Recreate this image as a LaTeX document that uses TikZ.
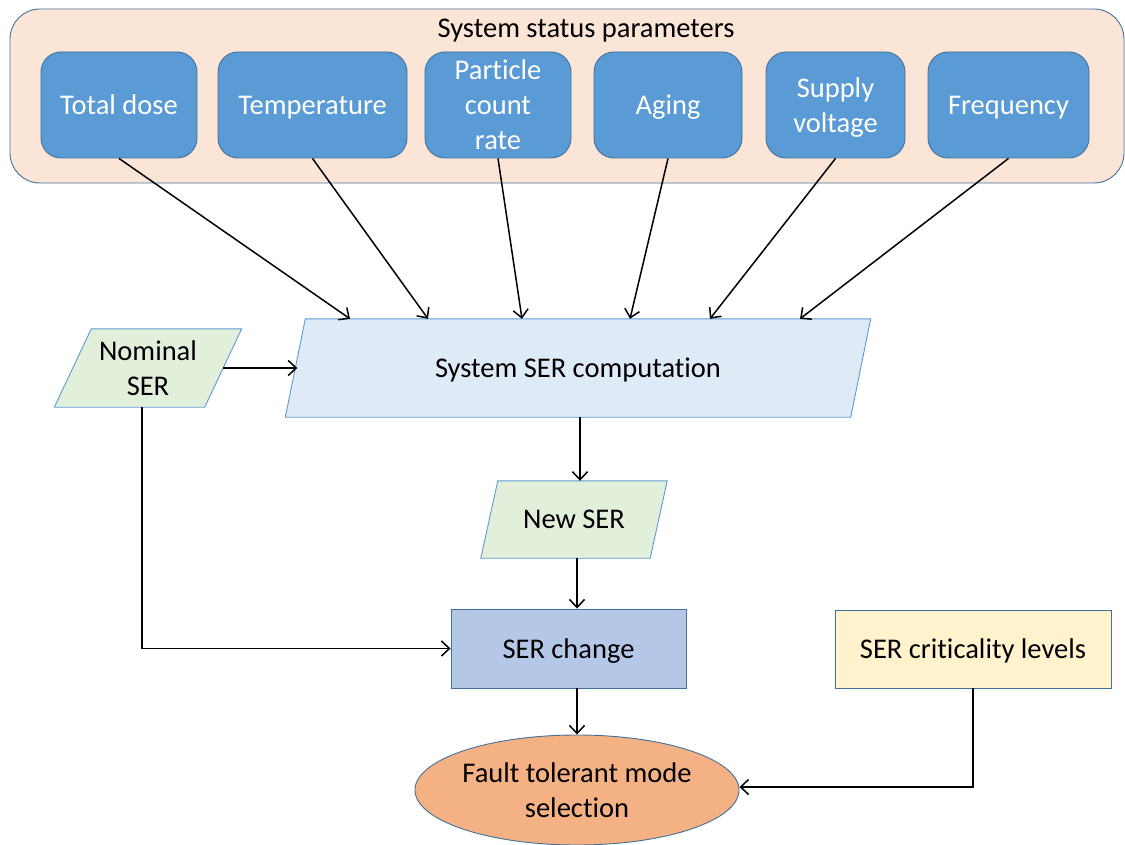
\documentclass[tikz,border=0pt]{standalone}
\usepackage{fontspec}
\setmainfont{Carlito}[Ligatures=NoCommon]
\usetikzlibrary{arrows.meta,shapes.geometric,backgrounds,calc}
\definecolor{outerfill}{HTML}{FBE5D6}
\definecolor{edgeblue}{HTML}{41719C}
\definecolor{parblue}{HTML}{5B9BD5}
\definecolor{compfill}{HTML}{DEEBF7}
\definecolor{greenfill}{HTML}{E2EFDA}
\definecolor{chgfill}{HTML}{B4C7E7}
\definecolor{critfill}{HTML}{FFF2CC}
\definecolor{ftsfill}{HTML}{F4B183}
\begin{document}
\begin{tikzpicture}[x=1pt,y=-1pt,
  font=\fontsize{28.5}{35}\selectfont,
  every node/.append style={text depth=0pt},
  parbox/.style={draw=edgeblue,line width=0.9pt,fill=parblue,rounded corners=20pt,
    minimum height=106pt,inner sep=0pt,align=center,text=white},
  plainbox/.style={draw=edgeblue,line width=0.9pt,minimum height=78pt,inner sep=0pt,align=center},
  paratext/.style={inner sep=0pt,align=center},
  paraline/.style={draw=parblue,line width=0.9pt},
  conn/.style={draw=black,line width=1.5pt,-{Straight Barb[length=8pt,width=15pt,line width=1.5pt]}}
]
\useasboundingbox (0,0) rectangle (1125,845);

% container
\node[draw=edgeblue,line width=0.9pt,fill=outerfill,rounded corners=30pt,
  minimum width=1114pt,minimum height=174pt,inner sep=0pt] (sys) at (567,96) {};
\node[inner sep=0pt] (systitle) at (586,28) {System status parameters};

% parameter boxes
\node[parbox,minimum width=156pt] (td) at (119,105) {Total dose};
\node[parbox,minimum width=189pt] (tp) at (312.5,105) {Temperature};
\node[parbox,minimum width=146pt] (pc) at (498,105) {Particle\\count\\rate};
\node[parbox,minimum width=148pt] (ag) at (668,105) {Aging};
\node[parbox,minimum width=139pt] (sv) at (835.5,105) {Supply\\voltage};
\node[parbox,minimum width=161pt] (fq) at (1008.5,105) {Frequency};

% parallelogram nodes (text holders)
\node[paratext,minimum width=565pt,minimum height=98pt] (comp) at (578,368) {System SER computation};
\node[paratext,minimum width=150pt,minimum height=78pt] (nom) at (148,368) {Nominal\\SER};
\node[paratext,minimum width=169pt,minimum height=77pt] (new) at (574,519.5) {New SER};

\begin{scope}[on background layer]
  \draw[paraline,fill=compfill] ([xshift=10pt]comp.north west) -- ([xshift=10pt]comp.north east)
    -- ([xshift=-10pt]comp.south east) -- ([xshift=-10pt]comp.south west) -- cycle;
  \draw[paraline,fill=greenfill] ([xshift=18.5pt]nom.north west) -- ([xshift=18.5pt]nom.north east)
    -- ([xshift=-18.5pt]nom.south east) -- ([xshift=-18.5pt]nom.south west) -- cycle;
  \draw[paraline,fill=greenfill] ([xshift=8.5pt]new.north west) -- ([xshift=8.5pt]new.north east)
    -- ([xshift=-8.5pt]new.south east) -- ([xshift=-8.5pt]new.south west) -- cycle;
\end{scope}

\node[plainbox,fill=chgfill,minimum width=235pt,minimum height=79pt] (chg) at (568.5,648.5) {SER change};
\node[plainbox,fill=critfill,minimum width=276pt] (crit) at (973,649) {SER criticality levels};
\node[ellipse,draw=edgeblue,line width=0.9pt,fill=ftsfill,minimum width=314pt,minimum height=110pt,
  inner sep=0pt,align=center] (fts) at (577,790) {Fault tolerant mode\\selection};

% connectors
\draw[conn] (td.south) -- ([xshift=-228pt]comp.north);
\draw[conn] (tp.south) -- ([xshift=-150pt]comp.north);
\draw[conn] (pc.south) -- ([xshift=-56pt]comp.north);
\draw[conn] (ag.south) -- ([xshift=52pt]comp.north);
\draw[conn] (sv.south) -- ([xshift=132pt]comp.north);
\draw[conn] (fq.south) -- ([xshift=222pt]comp.north);

\draw[conn] (nom.east) -- ([xshift=2pt]comp.west);
\draw[conn] ([xshift=2pt]comp.south) -- ([xshift=2pt]comp.south |- new.north);
\draw[conn] (new.south -| fts.north) -- (chg.north -| fts.north);
\draw[conn] ([xshift=-6pt]nom.south) |- (chg.west);
\draw[conn] (chg.south -| fts.north) -- (fts.north);
\draw[conn] (crit.south) |- ([yshift=3pt]fts.east);
\end{tikzpicture}
\end{document}
